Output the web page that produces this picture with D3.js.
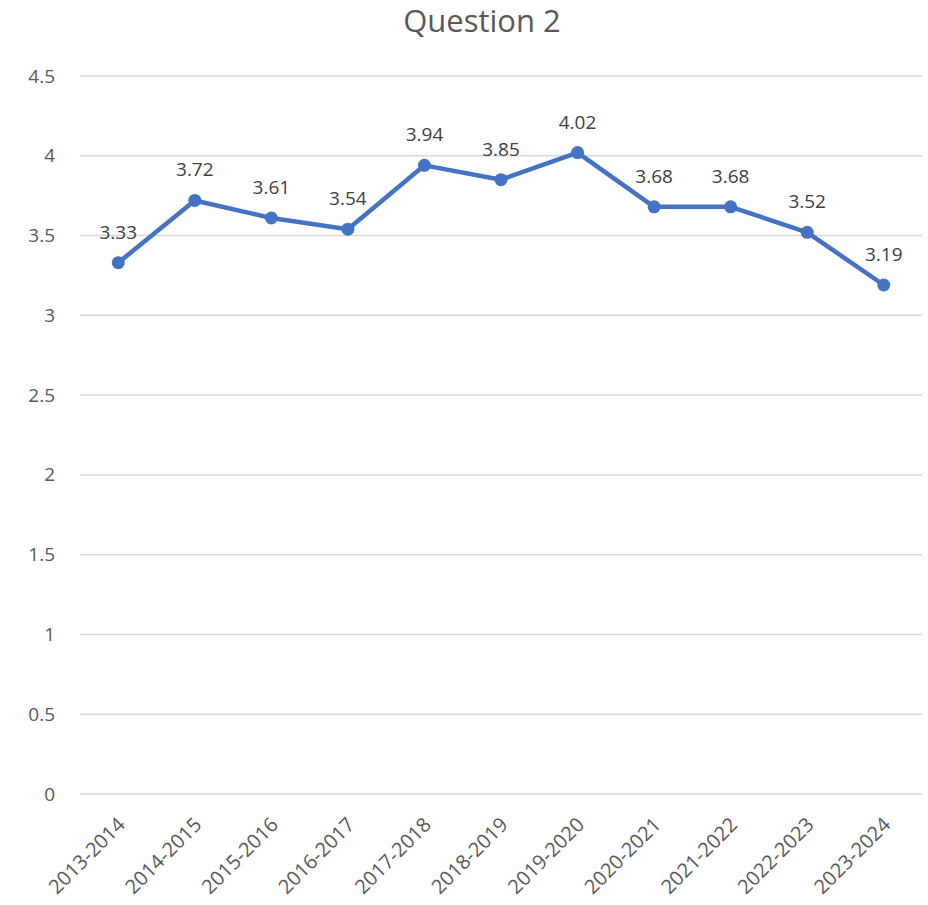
<!DOCTYPE html>
<html>
<head>
<meta charset="utf-8">
<script src="https://cdn.jsdelivr.net/npm/d3@7"></script>
<style>
  body { margin: 0; background: #fff; }
  text { font-family: "Open Sans", "Noto Sans", sans-serif; }
</style>
</head>
<body>
<div id="chart"></div>
<script>
const years = ["2013-2014", "2014-2015", "2015-2016", "2016-2017", "2017-2018", "2018-2019",
  "2019-2020", "2020-2021", "2021-2022", "2022-2023", "2023-2024"];
const scores = [3.33, 3.72, 3.61, 3.54, 3.94, 3.85, 4.02, 3.68, 3.68, 3.52, 3.19];
const yTicks = [0, 0.5, 1, 1.5, 2, 2.5, 3, 3.5, 4, 4.5];

const width = 928, height = 905;
const margin = { top: 76, right: 6, bottom: 111, left: 80 };

const svg = d3.select("#chart").append("svg")
  .attr("width", width)
  .attr("height", height);

const x = d3.scaleBand()
  .domain(years)
  .range([margin.left, width - margin.right]);

const y = d3.scaleLinear()
  .domain([0, 4.5])
  .range([height - margin.bottom, margin.top]);

// titulo
svg.append("text")
  .attr("x", 482)
  .attr("y", 32)
  .attr("text-anchor", "middle")
  .attr("font-size", 31)
  .attr("fill", "#595959")
  .text("Question 2");

// lineas de la grilla
svg.append("g")
  .selectAll("line")
  .data(yTicks)
  .enter()
  .append("line")
  .attr("x1", margin.left)
  .attr("x2", width - margin.right)
  .attr("y1", d => y(d))
  .attr("y2", d => y(d))
  .attr("stroke", "#d9d9d9")
  .attr("stroke-width", 1.5);

// eje y
const yAxis = svg.append("g")
  .attr("transform", `translate(${margin.left - 22}, 0)`)
  .call(d3.axisLeft(y).tickValues(yTicks).tickSize(0).tickFormat(d3.format("")));
yAxis.select(".domain").remove();
yAxis.selectAll("text")
  .attr("font-size", 19)
  .attr("fill", "#595959")
  .attr("font-family", "Open Sans, Noto Sans, sans-serif");

// eje x
const xAxis = svg.append("g")
  .attr("transform", `translate(0, ${height - margin.bottom})`)
  .call(d3.axisBottom(x).tickSize(0));
xAxis.select(".domain").remove();
xAxis.selectAll("text")
  .attr("font-size", 20)
  .attr("fill", "#595959")
  .attr("font-family", "Open Sans, Noto Sans, sans-serif")
  .attr("text-anchor", "end")
  .attr("dy", null)
  .attr("y", 0)
  .attr("transform", "translate(8, 32) rotate(-45)");

const cx = d => x(d) + x.bandwidth() / 2;

// linea
svg.append("path")
  .datum(scores)
  .attr("fill", "none")
  .attr("stroke", "#4472c4")
  .attr("stroke-width", 4.5)
  .attr("stroke-linejoin", "round")
  .attr("d", d3.line().x((d, i) => cx(years[i])).y(d => y(d)));

// puntos
svg.append("g")
  .selectAll("circle")
  .data(scores)
  .enter()
  .append("circle")
  .attr("cx", (d, i) => cx(years[i]))
  .attr("cy", d => y(d))
  .attr("r", 6.5)
  .attr("fill", "#4472c4");

// etiquetas de datos
svg.append("g")
  .selectAll("text")
  .data(scores)
  .enter()
  .append("text")
  .attr("x", (d, i) => cx(years[i]))
  .attr("y", d => y(d) - 24)
  .attr("text-anchor", "middle")
  .attr("font-size", 19)
  .attr("fill", "#404040")
  .text(d => d3.format(".2f")(d));
</script>
</body>
</html>
